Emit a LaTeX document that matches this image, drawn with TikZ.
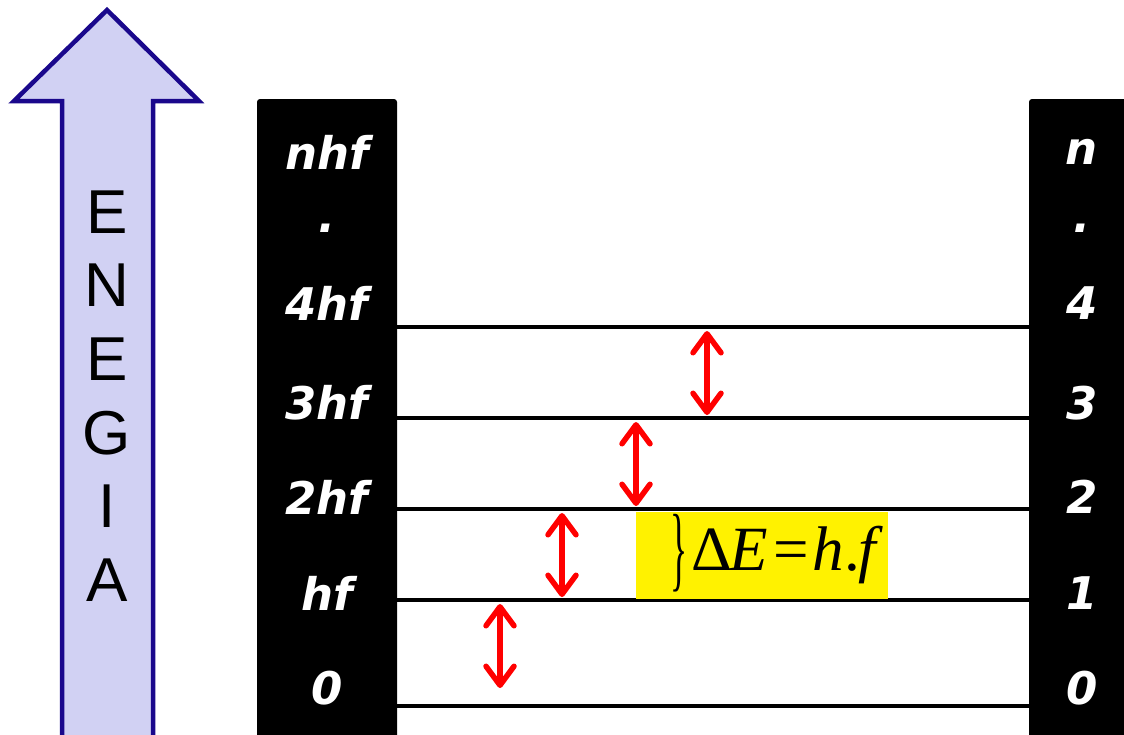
\documentclass[tikz,border=0pt]{standalone}
\usepackage{fontspec}
\usepackage{graphicx}
\usetikzlibrary{arrows.meta}
\newfontfamily\labelfont{DejaVu Sans}
\newfontfamily\arialfont{Liberation Sans}
\newfontfamily\timesfont{Liberation Serif}
\definecolor{arrowline}{RGB}{26,8,140}
\definecolor{arrowfill}{RGB}{209,209,243}
\tikzset{
  column/.style={fill=black, rounded corners=3pt},
  levelline/.style={draw=black, line width=4.5pt},
  energylabel/.style={text=white, font=\labelfont\bfseries\itshape\fontsize{45}{48}\selectfont, inner sep=0pt},
  letter/.style={font=\arialfont\fontsize{62}{66}\selectfont, inner sep=0pt},
  barb/.tip={Straight Barb[length=19pt,width=28pt,line cap=round,line join=round]},
  jump/.style={draw=red, line width=5.5pt, barb-barb},
}
\begin{document}
\begin{tikzpicture}[x=1pt, y=-1pt]
  \clip (0,0) rectangle (1124,734);

  % big energy arrow
  \draw[draw=arrowline, fill=arrowfill, line width=4.5pt, line join=miter]
    (107,10) -- (199,101) -- (153,101) -- (153,760) -- (62,760) -- (62,101) -- (14,101) -- cycle;
  \foreach \ch [count=\i from 0] in {E,N,E,G,I,A}
    \node[letter] (letter\i) at (107,{212+73.6*\i}) {\ch};

  % the two columns
  \fill[column] (257,99) rectangle (397,760);
  \fill[column] (1029,99) rectangle (1140,760);

  % labels in the columns
  \foreach \t/\n/\y [count=\i] in {nhf/n/152, {.}/{.}/228, 4hf/4/303, 3hf/3/403, 2hf/2/497, hf/1/593, 0/0/688} {
    \node[energylabel] (left\i) at (327,\y) {\t};
    \node[energylabel] (right\i) at (1082,\y) {\n};
  }

  % energy levels
  \foreach \name/\y in {4/327, 3/418, 2/509, 1/600, 0/706} {
    \coordinate (a\name) at (397,\y);
    \coordinate (b\name) at (1029,\y);
    \draw[levelline] (a\name) -- (b\name);
  }

  % quantum jumps between levels
  \coordinate (j4t) at (707,331); \coordinate (j4b) at (707,415);
  \coordinate (j3t) at (636,422); \coordinate (j3b) at (636,506);
  \coordinate (j2t) at (562,513); \coordinate (j2b) at (562,597);
  \coordinate (j1t) at (500,604); \coordinate (j1b) at (500,688);
  \draw[jump] (j4t) -- (j4b);
  \draw[jump] (j3t) -- (j3b);
  \draw[jump] (j2t) -- (j2b);
  \draw[jump] (j1t) -- (j1b);

  % highlighted relation
  \node[fill=yellow, minimum width=252pt, minimum height=87pt, inner sep=0pt, anchor=north west] (box) at (636,511.5) {};
  \node[inner sep=0pt] (brace) at (679,553)
    {\scalebox{0.38}[1]{\timesfont\fontsize{94}{96}\selectfont\}}};
  \node[inner sep=0pt, anchor=west] (relation) at (691,555)
    {\timesfont\fontsize{63}{66}\selectfont Δ\kern-2pt\textit{E}\kern5pt=\kern4pt\textit{h}.\kern-1pt\textit{f}};
\end{tikzpicture}
\end{document}
